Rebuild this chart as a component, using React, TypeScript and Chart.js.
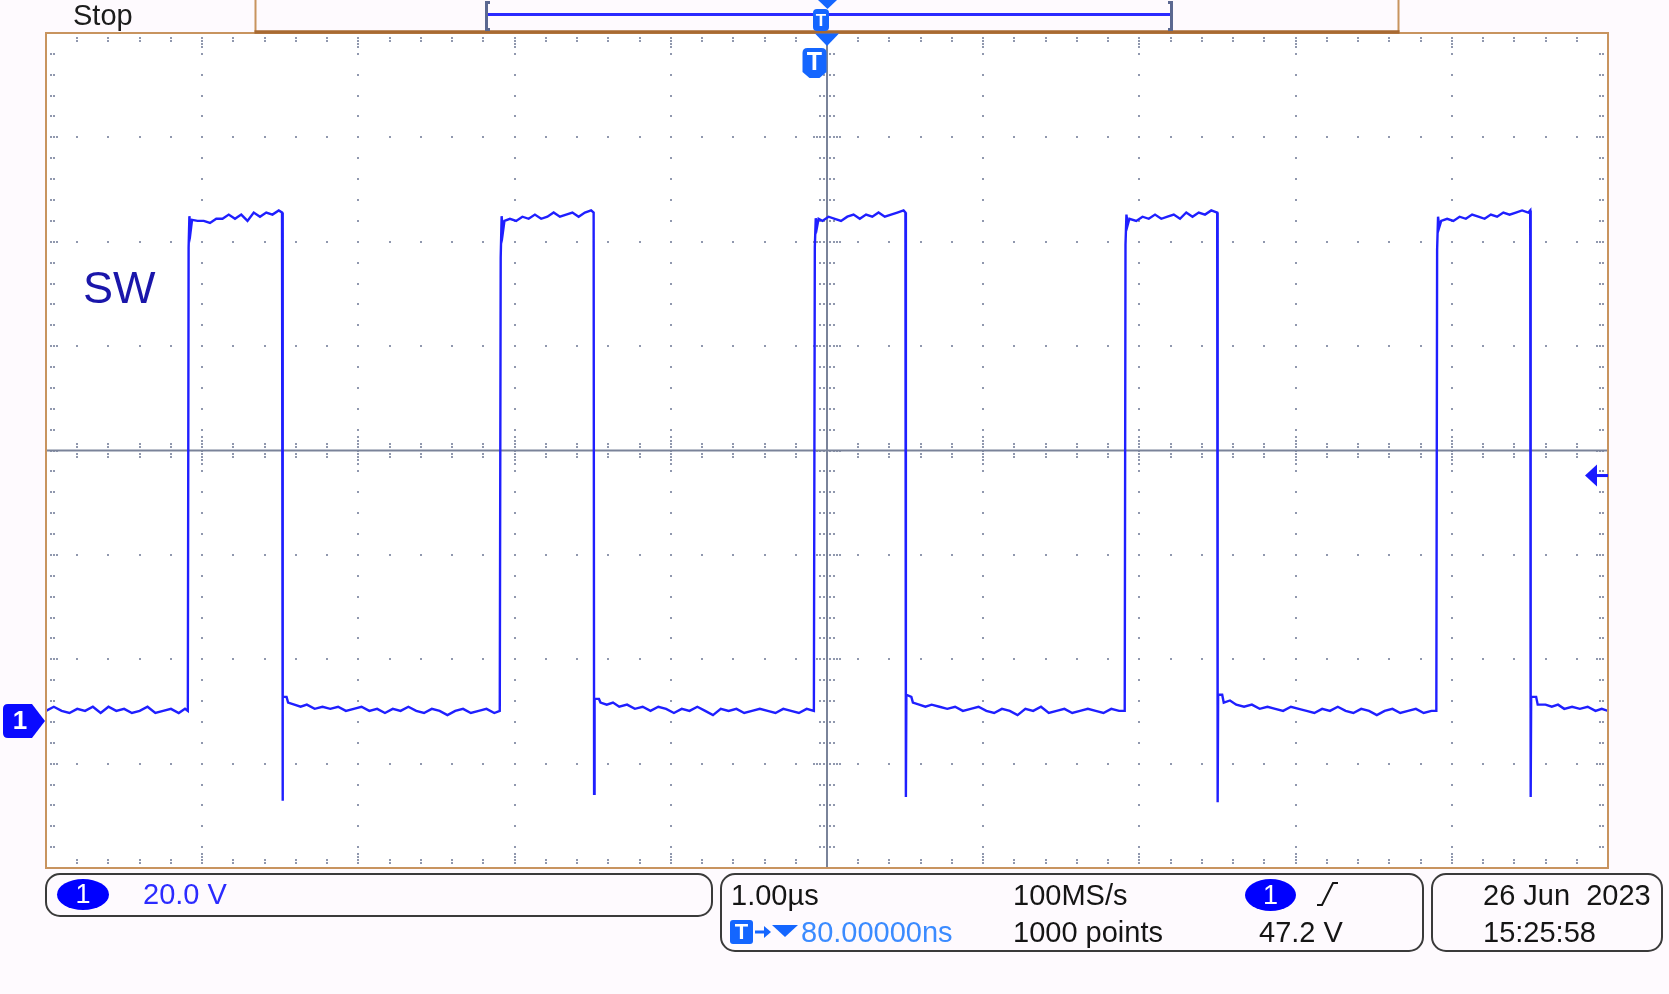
import React, { useEffect, useRef } from "react";
import { Chart, registerables } from "chart.js";

Chart.register(...registerables);

// ---- Axes (time in µs with trigger at 0, voltage in V) ----
const TIME_MIN = -4.92;
const TIME_MAX = 5.08;
const TIME_PER_DIV = 1.0;
const VOLT_MIN = -28;
const VOLT_MAX = 132;
const VOLTS_PER_DIV = 20;
const TRIGGER_LEVEL = 47.2;

// ---- Trace samples [time µs, volts] ----
const leadLow: [number, number][] = [
  [-4.92, 2.1], [-4.87, 2.9], [-4.82, 2.1], [-4.77, 1.7], [-4.72, 2.5], [-4.67, 2.1], [-4.62, 2.9],
  [-4.57, 1.7], [-4.52, 2.9], [-4.47, 2.1], [-4.42, 2.5], [-4.37, 1.7], [-4.32, 2.1], [-4.27, 2.9],
  [-4.22, 1.7], [-4.17, 2.1], [-4.12, 2.5], [-4.07, 1.7], [-4.03, 2.5], [-4.012, 2.1],
];

const pulse1: [number, number][] = [
  [-4.007, 90.9], [-4.002, 96.9], [-3.994, 94.0], [-3.985, 96.2],
  [-3.95, 96.0], [-3.91, 96.0], [-3.87, 95.6], [-3.83, 96.4], [-3.79, 96.4], [-3.75, 97.2], [-3.71, 96.4],
  [-3.67, 97.2], [-3.63, 96.0], [-3.59, 97.6], [-3.55, 96.8], [-3.51, 97.6], [-3.47, 97.2], [-3.43, 98.0],
  [-3.409, 97.6], [-3.406, -15.1], [-3.403, 4.8],
  [-3.38, 4.8], [-3.37, 3.7], [-3.33, 3.3], [-3.29, 2.9], [-3.25, 3.3], [-3.2, 2.5], [-3.15, 2.9],
  [-3.1, 2.5], [-3.05, 2.9], [-3.0, 2.1], [-2.95, 2.5], [-2.9, 2.9], [-2.85, 2.1], [-2.8, 2.5],
  [-2.75, 1.7], [-2.7, 2.5], [-2.65, 2.1], [-2.6, 2.9], [-2.55, 2.1], [-2.5, 1.7], [-2.45, 2.5],
  [-2.4, 2.1], [-2.35, 1.3], [-2.3, 2.1], [-2.25, 2.5], [-2.2, 1.7], [-2.15, 2.1], [-2.1, 2.5],
  [-2.05, 1.7], [-2.015, 2.1],
];

const pulse2: [number, number][] = [
  [-2.009, 89.0], [-2.003, 96.9], [-1.995, 93.8], [-1.985, 96.0],
  [-1.95, 96.4], [-1.91, 96.0], [-1.87, 96.8], [-1.83, 96.4], [-1.79, 97.2], [-1.75, 96.4], [-1.71, 96.8],
  [-1.67, 97.6], [-1.63, 96.8], [-1.59, 97.2], [-1.55, 97.6], [-1.51, 96.8], [-1.47, 97.6], [-1.43, 98.0],
  [-1.414, 97.6], [-1.411, -13.8], [-1.408, 4.4],
  [-1.38, 4.4], [-1.37, 3.7], [-1.33, 3.3], [-1.29, 3.7], [-1.25, 2.9], [-1.2, 3.3], [-1.15, 2.5],
  [-1.1, 2.9], [-1.05, 2.1], [-1.0, 2.9], [-0.95, 2.5], [-0.9, 1.7], [-0.85, 2.5], [-0.8, 2.1],
  [-0.75, 2.9], [-0.7, 2.1], [-0.65, 1.3], [-0.6, 2.5], [-0.55, 2.1], [-0.5, 2.5], [-0.45, 1.7],
  [-0.4, 2.1], [-0.35, 2.5], [-0.3, 2.1], [-0.25, 1.7], [-0.2, 2.5], [-0.15, 2.1], [-0.1, 1.7],
  [-0.05, 2.5], [-0.004, 2.1],
];

const pulse3: [number, number][] = [
  [0.002, 91.0], [0.008, 96.5], [0.016, 94.8], [0.026, 96.4],
  [0.05, 96.0], [0.09, 96.8], [0.13, 96.4], [0.17, 96.0], [0.21, 96.8], [0.25, 97.2], [0.29, 96.4],
  [0.33, 97.2], [0.37, 96.8], [0.41, 97.6], [0.45, 96.8], [0.49, 97.2], [0.53, 97.6], [0.57, 98.0],
  [0.582, 97.6], [0.585, -14.4], [0.588, 5.2],
  [0.62, 4.8], [0.63, 3.7], [0.67, 3.3], [0.71, 2.9], [0.75, 3.3], [0.8, 2.9], [0.85, 2.5],
  [0.9, 2.9], [0.95, 2.1], [1.0, 2.5], [1.05, 2.9], [1.1, 2.1], [1.15, 1.7], [1.2, 2.5],
  [1.25, 2.1], [1.3, 1.3], [1.35, 2.5], [1.4, 2.1], [1.45, 2.9], [1.5, 1.7], [1.55, 2.1],
  [1.6, 2.5], [1.65, 1.7], [1.7, 2.1], [1.75, 2.5], [1.8, 2.1], [1.85, 1.7], [1.9, 2.5],
  [1.95, 2.1], [1.986, 2.1],
];

const pulse4: [number, number][] = [
  [1.991, 91.5], [1.997, 97.2], [2.005, 95.2], [2.016, 96.4],
  [2.06, 96.0], [2.1, 96.8], [2.14, 96.4], [2.18, 97.2], [2.22, 96.4], [2.26, 96.8], [2.3, 97.2],
  [2.34, 96.4], [2.38, 97.6], [2.42, 96.8], [2.46, 97.6], [2.5, 97.2], [2.54, 98.0],
  [2.578, 97.6], [2.581, -15.4], [2.584, 5.2],
  [2.61, 5.2], [2.62, 3.7], [2.66, 4.1], [2.7, 3.3], [2.75, 2.9], [2.8, 3.3], [2.85, 2.5],
  [2.9, 2.9], [2.95, 2.5], [3.0, 2.1], [3.05, 2.9], [3.1, 2.5], [3.15, 2.1], [3.2, 1.7],
  [3.25, 2.5], [3.3, 2.1], [3.35, 2.9], [3.4, 2.1], [3.45, 1.7], [3.5, 2.5], [3.55, 2.1],
  [3.6, 1.3], [3.65, 2.1], [3.7, 2.5], [3.75, 1.7], [3.8, 2.1], [3.85, 2.5], [3.9, 1.7],
  [3.95, 2.1], [3.981, 2.1],
];

const pulse5: [number, number][] = [
  [3.986, 90.5], [3.992, 96.8], [4.0, 94.8], [4.012, 96.0],
  [4.05, 96.4], [4.09, 96.0], [4.13, 96.8], [4.17, 96.4], [4.21, 97.2], [4.25, 96.8], [4.29, 96.4],
  [4.33, 97.2], [4.37, 96.8], [4.41, 97.6], [4.45, 97.2], [4.49, 97.6], [4.53, 98.0], [4.57, 97.6],
  [4.582, 98.0], [4.585, -14.4], [4.588, 4.8],
  [4.62, 4.8], [4.63, 3.3], [4.68, 3.3], [4.72, 2.9], [4.76, 3.3], [4.8, 2.5], [4.85, 2.9],
  [4.9, 2.5], [4.95, 2.9], [5.0, 2.1], [5.04, 2.5], [5.08, 2.1],
];

const traceSegments = [leadLow, pulse1, pulse2, pulse3, pulse4, pulse5];

const TRACE_COLOR = "#1f1fff";
const MARKER_BLUE = "#1466ff";
const BORDER_TAN = "#c8945f";

function line(ctx: CanvasRenderingContext2D, x1: number, y1: number, x2: number, y2: number) {
  ctx.beginPath();
  ctx.moveTo(x1, y1);
  ctx.lineTo(x2, y2);
  ctx.stroke();
}

const scopePlugin = {
  id: "scopeDecor",
  beforeDatasetsDraw(chart: any) {
    const { ctx, chartArea: a, scales } = chart;
    const xs = scales.x;
    const ys = scales.y;
    ctx.save();
    ctx.fillStyle = "#ffffff";
    ctx.fillRect(a.left, a.top, a.right - a.left, a.bottom - a.top);

    const xDiv: number[] = [];
    const yDiv: number[] = [];
    for (let k = 0; k <= 10; k++) xDiv.push(xs.getPixelForValue(TIME_MIN + k * TIME_PER_DIV));
    for (let m = 0; m <= 8; m++) yDiv.push(ys.getPixelForValue(VOLT_MIN + m * VOLTS_PER_DIV));
    const xMinor: number[] = [];
    const yMinor: number[] = [];
    for (let j = 0; j <= 50; j++) xMinor.push(xs.getPixelForValue(TIME_MIN + (j * TIME_PER_DIV) / 5));
    for (let j = 0; j <= 40; j++) yMinor.push(ys.getPixelForValue(VOLT_MIN + (j * VOLTS_PER_DIV) / 5));

    const dot = (px: number, py: number) => ctx.fillRect(Math.round(px) - 1, Math.round(py) - 1, 2, 2);
    ctx.fillStyle = "#9098ae";
    // dotted division lines
    for (let k = 1; k <= 9; k++) {
      if (k === 5) continue;
      for (let j = 1; j <= 39; j++) dot(xDiv[k], yMinor[j]);
    }
    for (let m = 1; m <= 7; m++) {
      if (m === 4) continue;
      for (let j = 1; j <= 49; j++) dot(xMinor[j], yDiv[m]);
    }
    // border ticks
    for (let j = 1; j <= 49; j++) {
      const n = j % 5 === 0 ? 4 : 2;
      for (let i = 0; i < n; i++) {
        dot(xMinor[j], a.top + 5 + i * 3);
        dot(xMinor[j], a.bottom - 5 - i * 3);
      }
    }
    for (let j = 1; j <= 39; j++) {
      const n = j % 5 === 0 ? 3 : 2;
      for (let i = 0; i < n; i++) {
        dot(a.left + 5 + i * 3, yMinor[j]);
        dot(a.right - 5 - i * 3, yMinor[j]);
      }
    }
    // center cross ticks
    const cx = xDiv[5];
    const cy = yDiv[4];
    for (let j = 1; j <= 49; j++) {
      const n = j % 5 === 0 ? 4 : 2;
      for (let i = 1; i <= n; i++) {
        dot(xMinor[j], cy - i * 3.3);
        dot(xMinor[j], cy + i * 3.3);
      }
    }
    for (let j = 1; j <= 39; j++) {
      const n = j % 5 === 0 ? 4 : 2;
      for (let i = 1; i <= n; i++) {
        dot(cx - i * 3.3, yMinor[j]);
        dot(cx + i * 3.3, yMinor[j]);
      }
    }
    // center lines
    ctx.strokeStyle = "#7a8399";
    ctx.lineWidth = 2;
    line(ctx, a.left, cy, a.right, cy);
    line(ctx, cx, a.top, cx, a.bottom);
    ctx.restore();
  },
  afterDatasetsDraw(chart: any) {
    const { ctx, chartArea: a, scales } = chart;
    const xs = scales.x;
    const ys = scales.y;
    ctx.save();
    // plot frame
    ctx.strokeStyle = BORDER_TAN;
    ctx.lineWidth = 2;
    ctx.strokeRect(a.left, a.top, a.right - a.left, a.bottom - a.top);
    // header tab
    line(ctx, 255.5, 0, 255.5, a.top);
    line(ctx, 1398.5, 0, 1398.5, a.top);
    ctx.strokeStyle = "#a86a32";
    ctx.lineWidth = 3.5;
    line(ctx, 254.5, a.top - 1, 1399.5, a.top - 1);

    // record view bar
    ctx.strokeStyle = "#2a2aff";
    ctx.lineWidth = 3;
    line(ctx, 487, 14.5, 1171, 14.5);
    ctx.strokeStyle = "#5b6891";
    ctx.lineWidth = 3;
    ctx.beginPath();
    ctx.moveTo(490, 2.5); ctx.lineTo(486.5, 2.5); ctx.lineTo(486.5, 29.5); ctx.lineTo(490, 29.5);
    ctx.stroke();
    ctx.beginPath();
    ctx.moveTo(1168, 2.5); ctx.lineTo(1171.5, 2.5); ctx.lineTo(1171.5, 29.5); ctx.lineTo(1168, 29.5);
    ctx.stroke();

    // header trigger marker
    ctx.fillStyle = MARKER_BLUE;
    ctx.beginPath();
    ctx.moveTo(818, 0); ctx.lineTo(837, 0); ctx.lineTo(827.5, 9); ctx.closePath();
    ctx.fill();
    ctx.beginPath();
    ctx.roundRect(813, 9, 16, 22, 4);
    ctx.fill();
    ctx.fillStyle = "#ffffff";
    ctx.font = 'bold 17px "Liberation Sans", Arial, sans-serif';
    ctx.textAlign = "center";
    ctx.textBaseline = "middle";
    ctx.fillText("T", 821, 21);

    // center expansion triangle below frame
    const cx = xs.getPixelForValue((TIME_MIN + TIME_MAX) / 2);
    ctx.fillStyle = MARKER_BLUE;
    ctx.beginPath();
    ctx.moveTo(cx - 12, a.top + 0.5); ctx.lineTo(cx + 12, a.top + 0.5); ctx.lineTo(cx, a.top + 13); ctx.closePath();
    ctx.fill();

    // trigger position marker
    const tx = xs.getPixelForValue(0);
    ctx.beginPath();
    ctx.moveTo(tx - 7, 48);
    ctx.lineTo(tx + 7, 48);
    ctx.quadraticCurveTo(tx + 12, 48, tx + 12, 53);
    ctx.lineTo(tx + 12, 72);
    ctx.lineTo(tx + 5, 78);
    ctx.lineTo(tx - 5, 78);
    ctx.lineTo(tx - 12, 72);
    ctx.lineTo(tx - 12, 53);
    ctx.quadraticCurveTo(tx - 12, 48, tx - 7, 48);
    ctx.fill();
    ctx.fillStyle = "#ffffff";
    ctx.font = 'bold 25px "Liberation Sans", Arial, sans-serif';
    ctx.fillText("T", tx, 63);

    // ground marker for channel 1
    const gy = ys.getPixelForValue(0) - 1;
    ctx.fillStyle = "#0a0aff";
    ctx.beginPath();
    ctx.moveTo(8, gy - 17);
    ctx.lineTo(32, gy - 17);
    ctx.lineTo(45, gy);
    ctx.lineTo(32, gy + 17);
    ctx.lineTo(8, gy + 17);
    ctx.quadraticCurveTo(3, gy + 17, 3, gy + 12);
    ctx.lineTo(3, gy - 12);
    ctx.quadraticCurveTo(3, gy - 17, 8, gy - 17);
    ctx.fill();
    ctx.fillStyle = "#ffffff";
    ctx.font = 'bold 26px "Liberation Sans", Arial, sans-serif';
    ctx.fillText("1", 20, gy + 1);

    // trigger level arrow
    const ty = ys.getPixelForValue(TRIGGER_LEVEL);
    ctx.fillStyle = "#1a1aff";
    ctx.beginPath();
    ctx.moveTo(a.right - 23, ty);
    ctx.lineTo(a.right - 11, ty - 11);
    ctx.lineTo(a.right - 11, ty + 11);
    ctx.closePath();
    ctx.fill();
    ctx.fillRect(a.right - 12, ty - 1.5, 12, 3);
    ctx.restore();
  },
};

const TEXT_FONT = '"Liberation Sans", Arial, sans-serif';

function Txt(props: { x: number; base: number; size?: number; color?: string; children: React.ReactNode }) {
  const size = props.size ?? 29;
  return (
    <div
      style={{
        position: "absolute",
        left: props.x,
        top: props.base - size * 0.8465,
        fontSize: size,
        lineHeight: `${size}px`,
        color: props.color ?? "#151515",
        whiteSpace: "pre",
        fontFamily: TEXT_FONT,
      }}
    >
      {props.children}
    </div>
  );
}

function Panel(props: { x: number; y: number; w: number; h: number }) {
  return (
    <div
      style={{
        position: "absolute",
        left: props.x,
        top: props.y,
        width: props.w,
        height: props.h,
        boxSizing: "border-box",
        border: "2px solid #3a3a3a",
        borderRadius: 15,
      }}
    />
  );
}

function ChannelBadge(props: { x: number; y: number; w: number; h: number }) {
  return (
    <div
      style={{
        position: "absolute",
        left: props.x,
        top: props.y,
        width: props.w,
        height: props.h,
        borderRadius: "50%",
        background: "#0000ff",
        color: "#ffffff",
        fontFamily: TEXT_FONT,
        fontSize: 27,
        lineHeight: `${props.h}px`,
        textAlign: "center",
      }}
    >
      1
    </div>
  );
}

export default function App() {
  const canvasRef = useRef<HTMLCanvasElement>(null);

  useEffect(() => {
    const canvas = canvasRef.current;
    if (!canvas) return;
    const points = traceSegments.flat().map(([t, v]) => ({ x: t, y: v }));
    const chart = new Chart(canvas, {
      type: "line",
      data: {
        datasets: [
          {
            label: "SW",
            data: points,
            borderColor: TRACE_COLOR,
            borderWidth: 2.4,
            pointRadius: 0,
            tension: 0,
            fill: false,
          },
        ],
      },
      options: {
        animation: false,
        responsive: false,
        maintainAspectRatio: false,
        events: [],
        layout: { padding: { left: 46, top: 33, right: 61, bottom: 126 } },
        scales: {
          x: { type: "linear", min: TIME_MIN, max: TIME_MAX, display: false },
          y: { type: "linear", min: VOLT_MIN, max: VOLT_MAX, display: false },
        },
        plugins: { legend: { display: false }, tooltip: { enabled: false } },
      },
      plugins: [scopePlugin],
    } as any);
    return () => chart.destroy();
  }, []);

  return (
    <div
      style={{
        position: "fixed",
        left: 0,
        top: 0,
        width: 1669,
        height: 994,
        background: "#fefafe",
        overflow: "hidden",
      }}
    >
      <canvas
        ref={canvasRef}
        width={1669}
        height={994}
        style={{ position: "absolute", left: 0, top: 0, width: 1669, height: 994 }}
      />
      <Txt x={73} base={25.5} color="#1c1c1c">Stop</Txt>
      <Txt x={83} base={303} size={45} color="#1a16aa">SW</Txt>

      <Panel x={45} y={873} w={668} h={44} />
      <Panel x={720} y={873} w={704} h={79} />
      <Panel x={1431} y={873} w={232} h={79} />

      <ChannelBadge x={57} y={879} w={52} h={31} />
      <Txt x={143} base={905} color="#2b2bff">20.0 V</Txt>

      <Txt x={731} base={906}>1.00µs</Txt>
      <div
        style={{
          position: "absolute",
          left: 730,
          top: 920,
          width: 23,
          height: 24,
          borderRadius: 3,
          background: MARKER_BLUE,
          color: "#fff",
          fontFamily: TEXT_FONT,
          fontWeight: "bold",
          fontSize: 22,
          lineHeight: "24px",
          textAlign: "center",
        }}
      >
        T
      </div>
      <svg style={{ position: "absolute", left: 753, top: 920 }} width={48} height={24}>
        <line x1={2} y1={12} x2={13} y2={12} stroke={MARKER_BLUE} strokeWidth={3} />
        <polygon points="11,6 18,12 11,18" fill={MARKER_BLUE} />
        <polygon points="19,5 45,5 32,17" fill={MARKER_BLUE} />
      </svg>
      <Txt x={801} base={943} color="#3b8bff">80.00000ns</Txt>

      <Txt x={1013} base={906}>100MS/s</Txt>
      <Txt x={1013} base={943}>1000 points</Txt>

      <ChannelBadge x={1245} y={879} w={51} h={32} />
      <svg style={{ position: "absolute", left: 1315, top: 880 }} width={26} height={28}>
        <polyline points="2,25 7,25 18,3 23,3" fill="none" stroke="#151515" strokeWidth={2} />
      </svg>
      <Txt x={1259} base={943}>47.2 V</Txt>

      <Txt x={1483} base={906}>26 Jun  2023</Txt>
      <Txt x={1483} base={943}>15:25:58</Txt>
    </div>
  );
}
